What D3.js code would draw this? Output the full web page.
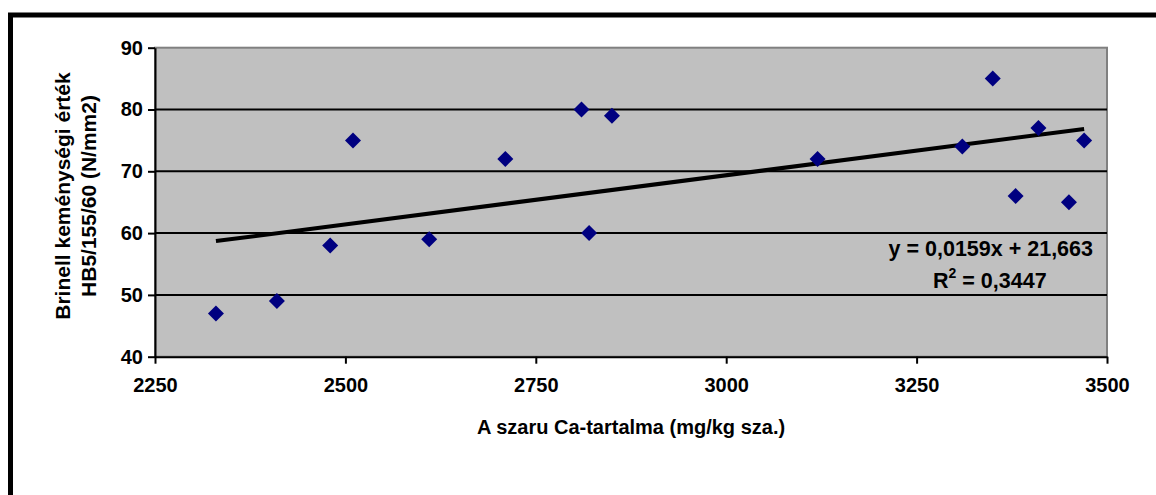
<!DOCTYPE html>
<html>
<head>
<meta charset="utf-8">
<script src="https://cdn.jsdelivr.net/npm/d3@7"></script>
<style>
  body { margin: 0; background: #fff; }
  svg text { font-family: "Liberation Sans", Arial, sans-serif; font-weight: bold; fill: #000; }
</style>
</head>
<body>
<div class="viz"></div>
<script>
// Ca content (mg/kg) and Brinell hardness values
const caValues = [2330, 2410, 2480, 2510, 2610, 2710, 2810, 2820, 2850, 3120, 3310, 3350, 3380, 3410, 3450, 3470];
const hbValues = [47, 49, 58, 75, 59, 72, 80, 60, 79, 72, 74, 85, 66, 77, 65, 75];
const xTicks = [2250, 2500, 2750, 3000, 3250, 3500];
const yTicks = [40, 50, 60, 70, 80, 90];
const slope = 0.0159, intercept = 21.663;
const eqLabel = "y = 0,0159x + 21,663";
const r2Label = "0,3447";

const width = 1156, height = 495;
const margin = {left: 155, top: 47.7, right: 1107, bottom: 356.7};

const svg = d3.select('.viz').append('svg')
  .attr('width', width).attr('height', height);

// outer frame, runs off the page right and bottom
svg.append('rect')
  .attr('x', 10.5).attr('y', 15)
  .attr('width', width + 50).attr('height', height + 50)
  .attr('fill', 'none').attr('stroke', '#000').attr('stroke-width', 5);

const x = d3.scaleLinear().domain([2250, 3500]).range([margin.left, margin.right]);
const y = d3.scaleLinear().domain([40, 90]).range([margin.bottom, margin.top]);

// plot area
svg.append('rect')
  .attr('x', x(2250)).attr('y', y(90))
  .attr('width', x(3500) - x(2250)).attr('height', y(40) - y(90))
  .attr('fill', '#c0c0c0').attr('stroke', '#808080').attr('stroke-width', 2);

// gridlines
svg.selectAll('.grid')
  .data(yTicks.filter(d => d > 40 && d < 90))
  .join('line')
  .attr('class', 'grid')
  .attr('x1', x(2250)).attr('x2', x(3500))
  .attr('y1', d => y(d)).attr('y2', d => y(d))
  .attr('stroke', '#000').attr('stroke-width', 2);

const xAxis = svg.append('g')
  .attr('transform', `translate(0,${y(40)})`)
  .call(d3.axisBottom(x).tickValues(xTicks).tickSize(7).tickSizeOuter(0).tickPadding(14).tickFormat(d3.format('d')));
const yAxis = svg.append('g')
  .attr('transform', `translate(${x(2250)},0)`)
  .call(d3.axisLeft(y).tickValues(yTicks).tickSize(7).tickSizeOuter(0).tickPadding(5));

[xAxis, yAxis].forEach(g => {
  g.select('.domain').attr('stroke', '#000').attr('stroke-width', 2);
  g.selectAll('.tick line').attr('stroke', '#000').attr('stroke-width', 2);
  g.selectAll('.tick text').attr('font-size', 20).attr('font-family', null).attr('fill', '#000');
});

// trendline over the data range
const xr = d3.extent(caValues);
svg.append('line')
  .attr('x1', x(xr[0])).attr('y1', y(slope * xr[0] + intercept))
  .attr('x2', x(xr[1])).attr('y2', y(slope * xr[1] + intercept))
  .attr('stroke', '#000').attr('stroke-width', 4);

// diamond markers
const diamond = d3.symbol().type(d3.symbolSquare).size(128);
svg.selectAll('.pt')
  .data(caValues.map((c, i) => ({c: c, h: hbValues[i]})))
  .join('path')
  .attr('class', 'pt')
  .attr('d', diamond)
  .attr('transform', d => `translate(${x(d.c)},${y(d.h)}) rotate(45)`)
  .attr('fill', '#000080');

// equation label
svg.append('text')
  .attr('x', 1093).attr('y', 256)
  .attr('text-anchor', 'end').attr('font-size', 21.5)
  .text(eqLabel);
const r2 = svg.append('text')
  .attr('x', 933).attr('y', 288)
  .attr('text-anchor', 'start').attr('font-size', 21.5);
r2.append('tspan').text('R');
r2.append('tspan').attr('dy', -10).attr('font-size', 14).text('2');
r2.append('tspan').attr('dy', 10).text(' = ' + r2Label);

// axis titles
svg.append('text')
  .attr('x', (margin.left + margin.right) / 2).attr('y', 434)
  .attr('text-anchor', 'middle').attr('font-size', 20)
  .text('A szaru Ca-tartalma (mg/kg sza.)');

const yt = svg.append('text')
  .attr('transform', `translate(70,196) rotate(-90)`)
  .attr('text-anchor', 'middle').attr('font-size', 21);
yt.append('tspan').attr('x', 0).attr('y', 0).text('Brinell keménységi érték');
yt.append('tspan').attr('x', 0).attr('y', 26).text('HB5/155/60 (N/mm2)');
</script>
</body>
</html>
